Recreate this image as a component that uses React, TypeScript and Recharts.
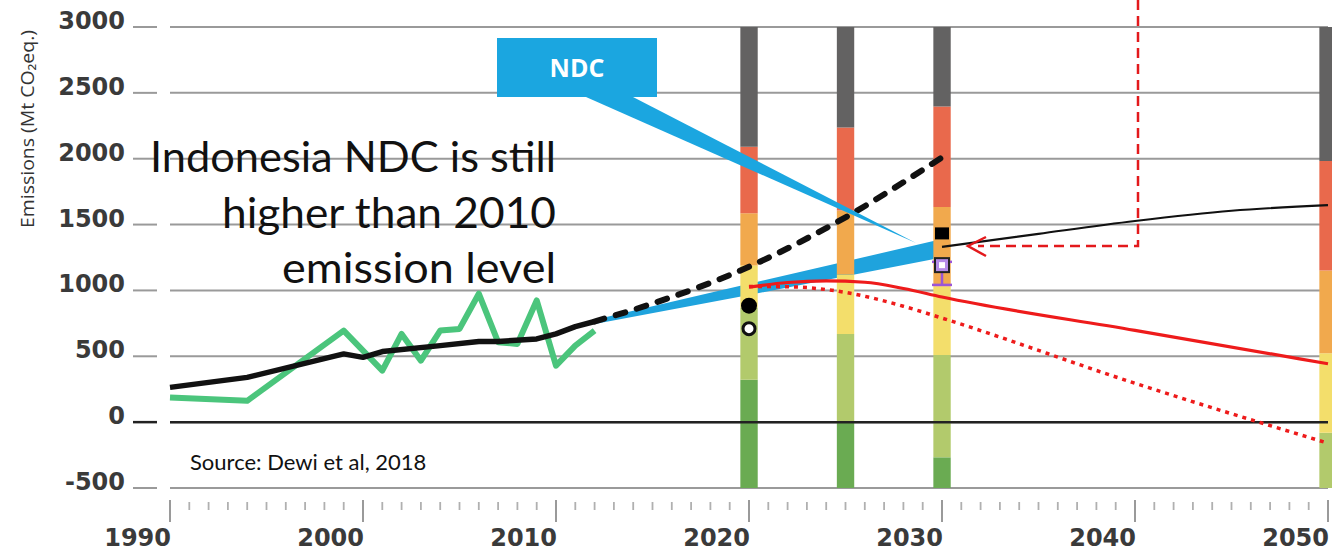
import React from "react";
import {
  Area,
  Bar,
  CartesianGrid,
  ComposedChart,
  ErrorBar,
  Line,
  ReferenceLine,
  Scatter,
  XAxis,
  YAxis,
} from "recharts";

const W = 1332;
const H = 553;

// historical emissions (black) and with land-use (green)
const histYears = [1990, 1994, 1999, 2000, 2001, 2004, 2006, 2007, 2009, 2010, 2011, 2012];
const histValues = [264, 340, 518, 492, 536, 581, 612, 612, 632, 670, 725, 764];
const landYears = [1990, 1994, 1999, 2001, 2002, 2003, 2004, 2005, 2006, 2007, 2008, 2009, 2010, 2011, 2012];
const landValues = [188, 162, 695, 391, 670, 467, 695, 708, 975, 607, 594, 924, 429, 581, 695];

// NDC band
const ndcYears = [2012, 2020, 2030];
const ndcLow = [745, 965, 1250];
const ndcHigh = [778, 1050, 1390];

// business as usual (dashed)
const bauYears = [2012, 2015, 2020, 2025, 2030];
const bauValues = [764, 900, 1180, 1555, 2010];

// red pathways
const redYears = [2020, 2022, 2024, 2026, 2028, 2030, 2040, 2050];
const redValues = [1025, 1060, 1072, 1062, 1015, 950, 697, 443];
const redDotYears = [2020, 2022, 2025, 2028, 2030, 2040, 2050];
const redDotValues = [1030, 1028, 985, 880, 790, 295, -160];

// thin black trend after 2030
const trendYears = [2030, 2035, 2040, 2045, 2050];
const trendValues = [1330, 1430, 1527, 1605, 1648];

// coloured bars (tops of each band)
const barYears = [2020, 2025, 2030, 2050];
const barFloor = -500;
const greenTop = [322, 0, -267, -500];
const lightGreenTop = [870, 670, 510, -80];
const yellowTop = [1190, 1120, 1030, 523];
const orangeTop = [1586, 1607, 1634, 1152];
const redTop = [2090, 2237, 2397, 1982];
const grayTop = [3000, 3000, 3000, 3000];

// markers
const blackDot = [{ year: 2020, value: 884 }];
const whiteDot = [{ year: 2020, value: 710 }];
const blackSquare = [{ year: 2030, value: 1433 }];
const purpleMark = [{ year: 2030, value: 1192, err: [150, 25] }];

const yTicks = [-500, 0, 500, 1000, 1500, 2000, 2500, 3000];
const xTicks = Array.from({ length: 61 }, (_, i) => 1990 + i);

const histRows = histYears.map((year, i) => ({ year, v: histValues[i] }));
const landRows = landYears.map((year, i) => ({ year, v: landValues[i] }));
const ndcRows = ndcYears.map((year, i) => ({ year, band: [ndcLow[i], ndcHigh[i]] }));
const bauRows = bauYears.map((year, i) => ({ year, v: bauValues[i] }));
const redRows = redYears.map((year, i) => ({ year, v: redValues[i] }));
const redDotRows = redDotYears.map((year, i) => ({ year, v: redDotValues[i] }));
const trendRows = trendYears.map((year, i) => ({ year, v: trendValues[i] }));

const barRows = barYears.map((year, i) => ({
  year,
  base: barFloor,
  green: greenTop[i] - barFloor,
  lightGreen: lightGreenTop[i] - greenTop[i],
  yellow: yellowTop[i] - lightGreenTop[i],
  orange: orangeTop[i] - yellowTop[i],
  red: redTop[i] - orangeTop[i],
  gray: grayTop[i] - redTop[i],
}));

const labelFont = "DejaVu Sans";

function YTick(props: any) {
  const { x, y, payload } = props;
  const zero = payload.value === 0;
  return (
    <g>
      <text x={x - 45} y={y + 2} textAnchor="end" fontFamily={labelFont} fontWeight={700} fontSize={24} fill="#3a3a3a">
        {payload.value}
      </text>
      <line x1={x - 37} x2={x - 13} y1={y} y2={y} stroke={zero ? "#222" : "#9a9a9a"} strokeWidth={zero ? 2.5 : 2} />
    </g>
  );
}

function XTick(props: any) {
  const { x, y, payload } = props;
  const major = payload.value % 10 === 0;
  return (
    <g>
      <line
        x1={x}
        x2={x}
        y1={y + (major ? 12 : 14)}
        y2={y + (major ? 34 : 22)}
        stroke={major ? "#9a9a9a" : "#b0b0b0"}
        strokeWidth={major ? 2 : 1.8}
      />
      {major && (
        <text x={x + 1} y={y + 58} textAnchor="end" fontFamily={labelFont} fontWeight={700} fontSize={24} fill="#3a3a3a">
          {payload.value}
        </text>
      )}
    </g>
  );
}

export default function App() {
  return (
    <div style={{ position: "absolute", left: 0, top: 0, width: W, height: H, background: "#fff" }}>
      <ComposedChart width={W} height={H} data={barRows} margin={{ top: 27, right: 4, bottom: 0, left: 0 }}>
        <CartesianGrid horizontal vertical={false} stroke="#9a9a9a" strokeWidth={2} />
        <XAxis
          dataKey="year"
          type="number"
          domain={[1990, 2050]}
          ticks={xTicks}
          interval={0}
          height={65}
          tickSize={0}
          tickMargin={0}
          axisLine={false}
          tickLine={false}
          tick={<XTick />}
        />
        <YAxis
          type="number"
          domain={[-500, 3000]}
          ticks={yTicks}
          interval={0}
          width={170}
          tickSize={0}
          tickMargin={0}
          axisLine={false}
          tickLine={false}
          tick={<YTick />}
        />
        <Bar dataKey="base" stackId="b" fill="transparent" barSize={24} isAnimationActive={false} />
        <Bar dataKey="green" stackId="b" fill="#6aab52" barSize={24} isAnimationActive={false} />
        <Bar dataKey="lightGreen" stackId="b" fill="#b2ca6c" barSize={24} isAnimationActive={false} />
        <Bar dataKey="yellow" stackId="b" fill="#f3de6b" barSize={24} isAnimationActive={false} />
        <Bar dataKey="orange" stackId="b" fill="#f1a94d" barSize={24} isAnimationActive={false} />
        <Bar dataKey="red" stackId="b" fill="#e9694c" barSize={24} isAnimationActive={false} />
        <Bar dataKey="gray" stackId="b" fill="#636262" barSize={24} isAnimationActive={false} />
        <ReferenceLine y={0} stroke="#222" strokeWidth={2.5} />
        <Area
          data={ndcRows}
          dataKey="band"
          type="linear"
          stroke="none"
          fill="#1fa3dd"
          fillOpacity={1}
          isAnimationActive={false}
        />
        <Line data={landRows} dataKey="v" type="linear" stroke="#4bc57c" strokeWidth={6} strokeLinejoin="round" dot={false} isAnimationActive={false} />
        <Line data={histRows} dataKey="v" type="linear" stroke="#111" strokeWidth={5.5} strokeLinejoin="round" dot={false} isAnimationActive={false} />
        <Line
          data={bauRows}
          dataKey="v"
          type="monotone"
          stroke="#111"
          strokeWidth={6}
          strokeDasharray="10 12"
          strokeLinecap="round"
          dot={false}
          isAnimationActive={false}
        />
        <Line data={redRows} dataKey="v" type="monotone" stroke="#ee1b1b" strokeWidth={3.2} dot={false} isAnimationActive={false} />
        <Line
          data={redDotRows}
          dataKey="v"
          type="monotone"
          stroke="#ee1b1b"
          strokeWidth={3.5}
          strokeDasharray="4 5"
          dot={false}
          isAnimationActive={false}
        />
        <Line data={trendRows} dataKey="v" type="monotone" stroke="#111" strokeWidth={2.2} dot={false} isAnimationActive={false} />
        <Scatter
          data={blackDot}
          dataKey="value"
          isAnimationActive={false}
          shape={(p: any) => <circle cx={p.cx} cy={p.cy} r={8} fill="#000" />}
        />
        <Scatter
          data={whiteDot}
          dataKey="value"
          isAnimationActive={false}
          shape={(p: any) => <circle cx={p.cx} cy={p.cy} r={6} fill="#fff" stroke="#111" strokeWidth={3} />}
        />
        <Scatter
          data={blackSquare}
          dataKey="value"
          isAnimationActive={false}
          shape={(p: any) => <rect x={p.cx - 7} y={p.cy - 6} width={14} height={12} fill="#000" />}
        />
        <Scatter
          data={purpleMark}
          dataKey="value"
          isAnimationActive={false}
          shape={(p: any) => (
            <g>
              <rect x={p.cx - 7} y={p.cy - 7} width={14} height={14} fill="#b58be8" stroke="#222" strokeWidth={2} />
              <rect x={p.cx - 3} y={p.cy - 3} width={6} height={6} fill="#fff" />
            </g>
          )}
        >
          <ErrorBar dataKey="err" direction="y" width={10} stroke="#9b55d6" strokeWidth={2.5} />
        </Scatter>
      </ComposedChart>

      <svg width={W} height={H} style={{ position: "absolute", left: 0, top: 0, pointerEvents: "none" }}>
        <text
          transform="translate(34,129) rotate(-90)"
          textAnchor="middle"
          fontFamily="Open Sans"
          fontSize={18}
          fill="#333"
          textLength={198}
          lengthAdjust="spacingAndGlyphs"
        >
          Emissions (Mt CO₂eq.)
        </text>

        <polygon points="586,97 633,97 916,243" fill="#1ba6e0" />
        <rect x={497} y={38} width={160} height={59} fill="#1ba6e0" />
        <text x={577} y={77} textAnchor="middle" fontFamily="Open Sans" fontWeight={700} fontSize={25} fill="#fff">
          NDC
        </text>

        <g fontFamily="Lato" fontSize={42} fill="#111" textAnchor="end">
          <text x={556} y={172} textLength={406} lengthAdjust="spacingAndGlyphs">Indonesia NDC is still</text>
          <text x={556} y={228} textLength={334} lengthAdjust="spacingAndGlyphs">higher than 2010</text>
          <text x={556} y={283} textLength={274} lengthAdjust="spacingAndGlyphs">emission level</text>
        </g>

        <text x={190} y={470} fontFamily="Lato" fontSize={22} fill="#111">
          Source: Dewi et al, 2018
        </text>

        <path d="M1138,0 V246 H978" fill="none" stroke="#e3191c" strokeWidth={2.5} strokeDasharray="10 6" />
        <polyline points="986,237 968,246 986,256" fill="none" stroke="#e3191c" strokeWidth={2.5} />
      </svg>
    </div>
  );
}
